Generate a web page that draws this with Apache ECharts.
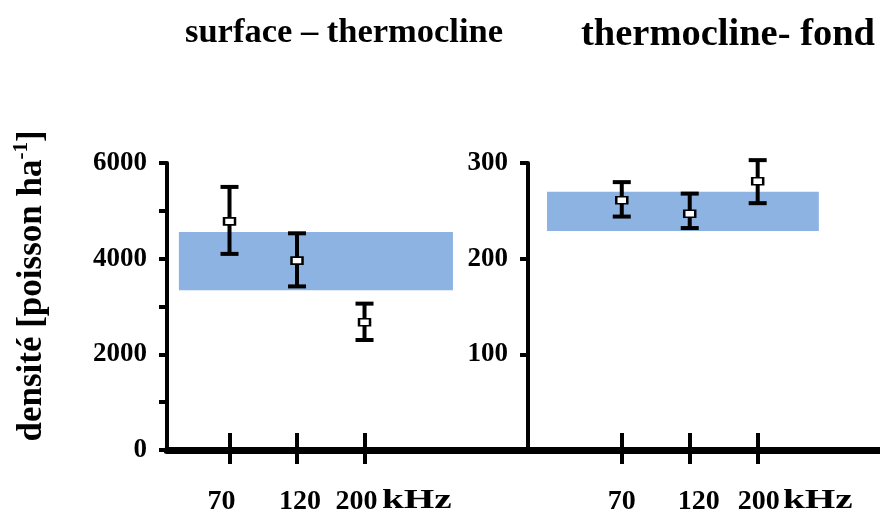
<!DOCTYPE html>
<html>
<head>
<meta charset="utf-8">
<script src="https://cdn.jsdelivr.net/npm/echarts@6/dist/echarts.min.js"></script>
<style>
  html, body { margin: 0; padding: 0; background: #fff; }
  #chart { width: 880px; height: 516px; }
</style>
</head>
<body>
<div id="chart"></div>
<script>
// Frequencies (kHz) and their slot on the x axis
const freqLabels = ['70', '120', '200'];
const freqSlots = [1, 2, 3];

// surface – thermocline: density (fish per ha), mean and error bar ends
const surfMean = [4780, 3960, 2670];
const surfLow  = [4100, 3420, 2300];
const surfHigh = [5500, 4530, 3060];
const surfBand = [3340, 4560];

// thermocline – fond
const fondMean = [261, 247, 281];
const fondLow  = [244, 232, 258];
const fondHigh = [280, 268, 303];
const fondBand = [229, 270];

// y-axis tick values
const surfTicks = [0, 2000, 4000, 6000];
const fondTicks = [100, 200, 300];

const FONT = 'Liberation Serif';
const BAND_COLOR = '#8DB3E2';

// panel geometry; band reach is in slot units; labelShift nudges each label (px)
const panelLayout = [
  { grid: { left: 167, right: 353, top: 163, bottom: 64 }, min: 0.074, max: 5.407,
    bandFrom: 0.25, bandTo: 4.31, labelShift: [-8, 3, -8], unitX: 382 },
  { grid: { left: 528, right: 0, top: 163, bottom: 64 }, min: -0.38, max: 4.80,
    bandFrom: -0.10, bandTo: 3.90, labelShift: [0, 9, 1], unitX: 783 }
];

function freqLabelFor(gi) {
  const shifts = panelLayout[gi].labelShift;
  return function (v) {
    const i = freqSlots.indexOf(v);
    if (i < 0) return '';
    const d = shifts[i];
    const pad = Math.abs(d) * 2;
    const txt = '{n|' + freqLabels[i] + '}';
    if (d > 0) return '{p' + pad + '|}' + txt;
    if (d < 0) return txt + '{p' + pad + '|}';
    return txt;
  };
}

function labelRichFor(gi) {
  const rich = { n: { fontFamily: FONT, fontWeight: 'bold', fontSize: 28, color: '#000' } };
  panelLayout[gi].labelShift.forEach(d => {
    const w = Math.abs(d) * 2;
    if (w) rich['p' + w] = { width: w };
  });
  return rich;
}

function xAxesFor(gi) {
  const L = panelLayout[gi];
  return [
    { // axis line with ticks rising above it
      type: 'value', gridIndex: gi, min: L.min, max: L.max, position: 'bottom', offset: 0,
      axisLine: { show: true, onZero: false, lineStyle: { color: '#000', width: 7 } },
      axisTick: { show: true, inside: true, length: 17, customValues: freqSlots, lineStyle: { color: '#000', width: 4 } },
      axisLabel: { show: false },
      splitLine: { show: false }
    },
    { // tick halves below the line, and the frequency labels
      type: 'value', gridIndex: gi, min: L.min, max: L.max, position: 'bottom', offset: 0,
      axisLine: { show: false, onZero: false },
      axisTick: { show: true, inside: false, length: 14, customValues: freqSlots, lineStyle: { color: '#000', width: 4 } },
      axisLabel: { show: true, margin: 38, customValues: freqSlots, formatter: freqLabelFor(gi), rich: labelRichFor(gi) },
      splitLine: { show: false }
    }
  ];
}

function bandSeries(gi, band) {
  const L = panelLayout[gi];
  return {
    type: 'custom', xAxisIndex: gi * 2, yAxisIndex: gi, z: 1, clip: false, silent: true,
    data: [[L.bandFrom, L.bandTo, band[0], band[1]]],
    renderItem: function (params, api) {
      const p0 = api.coord([api.value(0), api.value(3)]);
      const p1 = api.coord([api.value(1), api.value(2)]);
      return { type: 'rect', shape: { x: p0[0], y: p0[1], width: p1[0] - p0[0], height: p1[1] - p0[1] },
               style: { fill: BAND_COLOR } };
    }
  };
}

function errorSeries(gi, low, high) {
  return {
    type: 'custom', xAxisIndex: gi * 2, yAxisIndex: gi, z: 3, clip: false, silent: true,
    data: freqSlots.map((s, i) => [s, low[i], high[i]]),
    renderItem: function (params, api) {
      const lo = api.coord([api.value(0), api.value(1)]);
      const hi = api.coord([api.value(0), api.value(2)]);
      const half = 9;
      const st = { stroke: '#000', lineWidth: 4 };
      return { type: 'group', children: [
        { type: 'line', shape: { x1: lo[0], y1: lo[1], x2: hi[0], y2: hi[1] }, style: st },
        { type: 'line', shape: { x1: hi[0] - half, y1: hi[1], x2: hi[0] + half, y2: hi[1] }, style: st },
        { type: 'line', shape: { x1: lo[0] - half, y1: lo[1], x2: lo[0] + half, y2: lo[1] }, style: st }
      ] };
    }
  };
}

function meanSeries(gi, mean) {
  return {
    type: 'scatter', xAxisIndex: gi * 2, yAxisIndex: gi, z: 4, silent: true,
    symbol: 'rect', symbolSize: [11, 7],
    itemStyle: { color: '#fff', borderColor: '#000', borderWidth: 2, opacity: 1 },
    data: freqSlots.map((s, i) => [s, mean[i]])
  };
}

function yAxisFor(gi, max, interval, shown) {
  return {
    type: 'value', gridIndex: gi, min: 0, max: max, interval: interval,
    axisLine: { show: true, onZero: false, lineStyle: { color: '#000', width: 4 } },
    axisTick: { show: true, length: 8, lineStyle: { color: '#000', width: 4 } },
    axisLabel: {
      margin: 20, fontFamily: FONT, fontWeight: 'bold', fontSize: 27, color: '#000',
      formatter: v => (shown.indexOf(v) >= 0 ? String(v) : '')
    },
    splitLine: { show: false }
  };
}

// unit text after the last frequency, slightly widened like the rest of the lettering
function unitText(gi) {
  return { type: 'text', x: panelLayout[gi].unitX, y: 501, scaleX: 1.4,
    style: { text: 'kHz', textAlign: 'left', textVerticalAlign: 'middle',
      font: 'bold 28px "Liberation Serif"', fill: '#000' } };
}

const chart = echarts.init(document.getElementById('chart'), null, { renderer: 'canvas' });

chart.setOption({
  animation: false,
  backgroundColor: '#fff',
  grid: panelLayout.map(L => Object.assign({ containLabel: false }, L.grid)),
  xAxis: [].concat(xAxesFor(0), xAxesFor(1)),
  yAxis: [yAxisFor(0, 6000, 1000, surfTicks), yAxisFor(1, 300, 100, fondTicks)],
  series: [
    bandSeries(0, surfBand), errorSeries(0, surfLow, surfHigh), meanSeries(0, surfMean),
    bandSeries(1, fondBand), errorSeries(1, fondLow, fondHigh), meanSeries(1, fondMean)
  ],
  graphic: [
    { type: 'text', x: 344, y: 33, style: { text: 'surface – thermocline', textAlign: 'center', textVerticalAlign: 'middle',
        font: 'bold 34.5px "Liberation Serif"', fill: '#000' } },
    { type: 'text', x: 728, y: 35, style: { text: 'thermocline- fond', textAlign: 'center', textVerticalAlign: 'middle',
        font: 'bold 38.5px "Liberation Serif"', fill: '#000' } },
    { type: 'text', x: 30, y: 286, rotation: Math.PI / 2,
      style: {
        text: '{m|densité [poisson ha}{s|-1}{m|]}', textAlign: 'center', textVerticalAlign: 'middle',
        rich: {
          m: { fontFamily: FONT, fontWeight: 'bold', fontSize: 35, lineHeight: 38, fill: '#000', verticalAlign: 'bottom' },
          s: { fontFamily: FONT, fontWeight: 'bold', fontSize: 21, lineHeight: 38, fill: '#000', verticalAlign: 'top' }
        }
      } },
    unitText(0),
    unitText(1)
  ]
});
</script>
</body>
</html>
